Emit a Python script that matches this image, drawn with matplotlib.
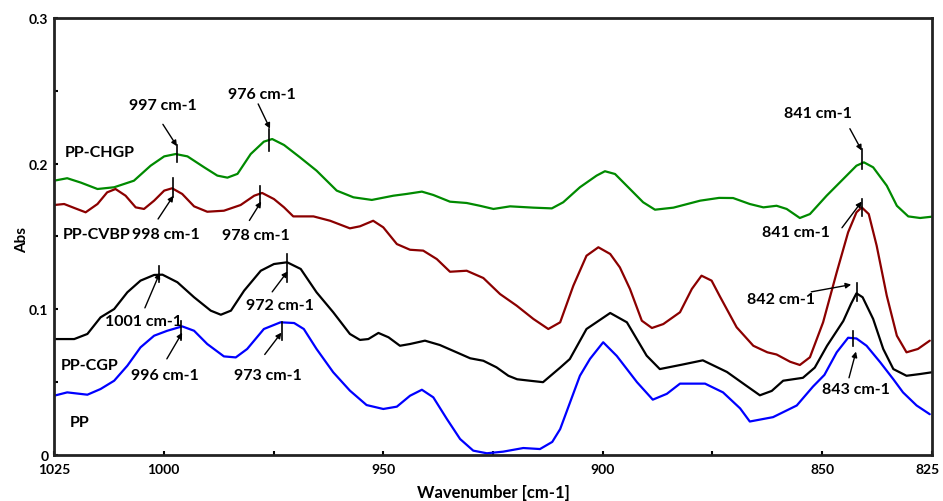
import matplotlib
matplotlib.use("Agg")
import matplotlib.pyplot as plt
from matplotlib.transforms import ScaledTranslation

plt.rcParams['font.family'] = ['Lato', 'DejaVu Sans']

# ---- data (wavenumber cm-1, absorbance) ----
chgp_x = [1025, 1022.0, 1018.9, 1015.1, 1011.3, 1006.8, 1003.0, 999.9, 997.3, 994.6, 990.8, 987.8,
          985.5, 983.2, 980.2, 977.2, 975.3, 972.6, 969.0, 965.2, 960.6, 956.8, 952.6, 947.7, 944.7,
          941.2, 938.6, 934.8, 931.0, 928.0, 924.9, 921.1, 915.8, 911.6, 909.0, 905.2, 901.4, 899.5,
          897.2, 893.8, 890.8, 888.1, 883.9, 877.8, 873.5, 870.3, 866.5, 863.4, 860.4, 858.1, 855.1,
          852.8, 849.0, 845.2, 842.2, 840.5, 838.4, 835.3, 833.0, 830.4, 827.7, 825]
chgp_y = [0.1883, 0.190, 0.187, 0.1826, 0.1838, 0.1883, 0.1986, 0.2050, 0.2066, 0.205, 0.1975, 0.1918,
          0.1904, 0.193, 0.2066, 0.2151, 0.2169, 0.2128, 0.2044, 0.1952, 0.1815, 0.1769, 0.1751, 0.178, 0.1792,
          0.1808, 0.1785, 0.1739, 0.1730, 0.1711, 0.1689, 0.1707, 0.1698, 0.1693, 0.1735, 0.1838, 0.1918, 0.1948,
          0.1929, 0.1826, 0.1735, 0.1684, 0.1698, 0.1746, 0.1765, 0.1764, 0.1723, 0.170, 0.1711, 0.1689, 0.1627,
          0.1654, 0.178, 0.1895, 0.1986, 0.2009, 0.1975, 0.1849, 0.1711, 0.1638, 0.1627, 0.1636]

cvbp_x = [1025, 1022.7, 1020.4, 1017.8, 1015.1, 1012.9, 1011.0, 1008.7, 1006.4, 1004.5, 1002.2, 999.9,
          998.1, 995.8, 993.1, 990.1, 986.3, 982.5, 979.4, 977.6, 974.9, 972.6, 970.5, 965.9, 962.1,
          957.6, 955.3, 952.3, 950.0, 946.9, 943.9, 940.9, 937.8, 934.8, 931.0, 927.2, 923.4, 919.6,
          915.8, 912.4, 909.7, 906.7, 903.7, 901.0, 898.3, 896.1, 893.8, 891.1, 888.8, 886.2, 882.4,
          879.7, 877.5, 875.2, 873.3, 869.5, 865.7, 862.5, 860.4, 857.3, 855.1, 852.8, 849.8, 846.7,
          844.1, 842.2, 841.0, 839.4, 837.6, 835.3, 833.0, 830.8, 828.2, 825.5]
cvbp_y = [0.1716, 0.1723, 0.1696, 0.1666, 0.1723, 0.1803, 0.1826, 0.178, 0.170, 0.1689, 0.1746, 0.1815,
          0.1831, 0.1792, 0.1707, 0.167, 0.1677, 0.1716, 0.178, 0.1799, 0.1757, 0.170, 0.1638, 0.1638, 0.1608,
          0.1556, 0.157, 0.1608, 0.1563, 0.1448, 0.1409, 0.1403, 0.1345, 0.1258, 0.1265, 0.1215, 0.1105, 0.1025,
          0.0934, 0.0865, 0.0911, 0.1162, 0.1368, 0.1426, 0.138, 0.1288, 0.114, 0.0922, 0.0872, 0.0899, 0.098,
          0.114, 0.1231, 0.1197, 0.1088, 0.0877, 0.075, 0.0705, 0.0690, 0.064, 0.0618, 0.0671, 0.0911, 0.1254,
          0.1529, 0.1666, 0.170, 0.1654, 0.1437, 0.1094, 0.0819, 0.0705, 0.0728, 0.0785]

cgp_x = [1025, 1020.4, 1017.4, 1014.4, 1011.3, 1008.3, 1005.3, 1002.2, 1000.3, 996.9, 993.1, 989.3,
         987.0, 984.7, 981.7, 977.9, 974.9, 971.9, 968.8, 965.2, 961.4, 957.6, 955.3, 953.4, 951.1,
         948.8, 946.2, 943.9, 940.5, 937.1, 933.3, 930.2, 927.2, 924.2, 921.5, 919.5, 916.6, 913.6,
         909.7, 907.5, 903.7, 898.3, 894.5, 890.0, 887.0, 882.0, 877.2, 871.7, 867.5, 864.2, 861.5,
         858.9, 854.4, 851.7, 848.9, 845.2, 843.4, 842.2, 840.8, 838.4, 836.1, 833.8, 830.8, 827.7, 825]
cgp_y = [0.0796, 0.0796, 0.0831, 0.0945, 0.1002, 0.1117, 0.1197, 0.1236, 0.1238, 0.1186, 0.1083, 0.0991,
         0.0963, 0.0991, 0.1128, 0.1265, 0.1311, 0.1323, 0.1277, 0.1117, 0.098, 0.0831, 0.079, 0.0796, 0.0838,
         0.0808, 0.075, 0.0762, 0.0785, 0.0755, 0.0705, 0.0664, 0.0647, 0.0602, 0.0544, 0.052, 0.051, 0.050,
         0.060, 0.0659, 0.0865, 0.0975, 0.0911, 0.0682, 0.059, 0.062, 0.065, 0.057, 0.048, 0.041, 0.044,
         0.051, 0.053, 0.060, 0.075, 0.092, 0.104, 0.111, 0.1083, 0.0934, 0.0728, 0.059, 0.0544, 0.0556, 0.0568]

pp_x = [1025, 1022.0, 1017.4, 1014.4, 1011.3, 1008.3, 1005.3, 1002.2, 999.2, 995.8, 993.1, 990.1,
        986.3, 983.6, 981.0, 977.2, 973.4, 970.3, 968.1, 965.2, 961.4, 957.6, 953.8, 950.0, 946.9,
        943.9, 941.2, 938.6, 935.5, 932.5, 929.5, 926.4, 922.7, 918.1, 914.3, 911.5, 909.7, 905.2,
        902.9, 899.9, 896.8, 892.2, 888.6, 885.4, 882.4, 876.7, 872.6, 868.7, 866.5, 861.2, 855.8,
        852.1, 849.5, 846.7, 844.1, 842.2, 839.9, 836.8, 833.8, 831.6, 828.5, 825.5]
pp_y = [0.0407, 0.043, 0.0414, 0.0453, 0.051, 0.0613, 0.0739, 0.0819, 0.0853, 0.0883, 0.0853, 0.0762,
        0.0677, 0.067, 0.0728, 0.0865, 0.0911, 0.0906, 0.0865, 0.0728, 0.0568, 0.0442, 0.0343, 0.0316, 0.0332,
        0.0407, 0.0448, 0.0396, 0.0247, 0.011, 0.003, 0.0012, 0.0023, 0.0048, 0.0041, 0.009, 0.0178, 0.0544,
        0.066, 0.0774, 0.068, 0.050, 0.038, 0.042, 0.049, 0.049, 0.043, 0.032, 0.023, 0.026, 0.034,
        0.047, 0.055, 0.0705, 0.0805, 0.080, 0.075, 0.0637, 0.052, 0.043, 0.034, 0.028]

series_names = ['PP-CHGP', 'PP-CVBP', 'PP-CGP', 'PP']
series_colors = ['#008a00', '#8b0000', '#000000', '#0000ff']
name_pos = [(1022.5, 0.208), (1023, 0.152), (1023.5, 0.062), (1021.5, 0.023)]

# peak annotations: label, peak wn, tick y-range, text position, arrow start, arrow end
peak_labels = ['997 cm-1', '976 cm-1', '998 cm-1', '978 cm-1', '1001 cm-1', '972 cm-1',
               '996 cm-1', '973 cm-1', '841 cm-1', '841 cm-1', '842 cm-1', '843 cm-1']
peak_wn = [997, 976, 998, 978, 1001, 972, 996, 973, 841, 841, 842, 843]
tick_lo = [0.201, 0.209, 0.177, 0.173, 0.119, 0.119, 0.079, 0.079, 0.196, 0.164, 0.106, 0.075]
tick_hi = [0.213, 0.224, 0.190, 0.185, 0.130, 0.138, 0.092, 0.091, 0.210, 0.176, 0.118, 0.085]
text_pos = [(1000.2, 0.240), (977.6, 0.248), (999.5, 0.152), (979.0, 0.151), (1004.7, 0.092),
            (973.5, 0.103), (999.7, 0.055), (976.3, 0.055), (851.0, 0.235), (856.0, 0.153),
            (859.4, 0.107), (842.3, 0.045)]
arrow_from = [(1000.2, 0.227), (978.5, 0.241), (1001.3, 0.162), (980.5, 0.161), (1004.3, 0.101),
              (975.3, 0.112), (999.3, 0.066), (977.0, 0.069), (843.7, 0.224), (845.5, 0.156),
              (852.5, 0.112), (843.9, 0.053)]
arrow_to = [(997.0, 0.212), (975.8, 0.224), (997.8, 0.178), (977.8, 0.174), (1000.9, 0.125),
            (971.8, 0.126), (995.8, 0.084), (973.2, 0.084), (841.0, 0.209), (841.0, 0.174),
            (843.4, 0.117), (842.3, 0.071)]

fig = plt.figure(figsize=(9.43, 5.02), dpi=100)
ax = fig.add_axes([0.0573, 0.0916, 0.9310, 0.8706])

for xs, ys, c in [(chgp_x, chgp_y, series_colors[0]), (cvbp_x, cvbp_y, series_colors[1]),
                  (cgp_x, cgp_y, series_colors[2]), (pp_x, pp_y, series_colors[3])]:
    ax.plot(xs, ys, color=c, lw=1.6, solid_joinstyle='round', solid_capstyle='round')

fs = 11.5
for name, (tx, ty) in zip(series_names, name_pos):
    ax.text(tx, ty, name, fontsize=fs, fontweight='bold', ha='left', va='center')

for lab, wn, lo, hi, tp, af, at in zip(peak_labels, peak_wn, tick_lo, tick_hi, text_pos,
                                        arrow_from, arrow_to):
    ax.plot([wn, wn], [lo, hi], color='black', lw=1.2)
    ax.text(tp[0], tp[1], lab, fontsize=fs, fontweight='bold', ha='center', va='center')
    ax.annotate('', xy=at, xytext=af,
                arrowprops=dict(arrowstyle='-|>', lw=1.0, color='black',
                                mutation_scale=8, shrinkA=0, shrinkB=0))

ax.set_xlim(1025, 825)
ax.set_ylim(0, 0.3)
ax.set_xticks([1025, 1000, 975, 950, 925, 900, 875, 850, 825])
ax.set_xticklabels(['1025', '1000', '', '950', '', '900', '', '850', '825'])
ax.set_yticks([0, 0.05, 0.1, 0.15, 0.2, 0.25, 0.3])
ax.set_yticklabels(['0', '', '0.1', '', '0.2', '', '0.3'])
ax.tick_params(direction='in', length=3, width=1.5, labelsize=10)
for lab in ax.get_xticklabels() + ax.get_yticklabels():
    lab.set_fontweight('bold')
ax.tick_params(axis='x', pad=6)
ax.tick_params(axis='y', pad=4)
xl = ax.get_xticklabels()
xl[-1].set_transform(xl[-1].get_transform() + ScaledTranslation(-4 / 100, 0, fig.dpi_scale_trans))
for s in ax.spines.values():
    s.set_linewidth(2)
    s.set_color('#222222')
ax.set_xlabel('Wavenumber [cm-1]', fontsize=12, fontweight='bold', labelpad=6)
fig.text(22 / 943, 1 - 240 / 502, 'Abs', rotation=90, fontsize=11, fontweight='bold',
         ha='center', va='center')

fig.savefig('out.png', dpi=100)
